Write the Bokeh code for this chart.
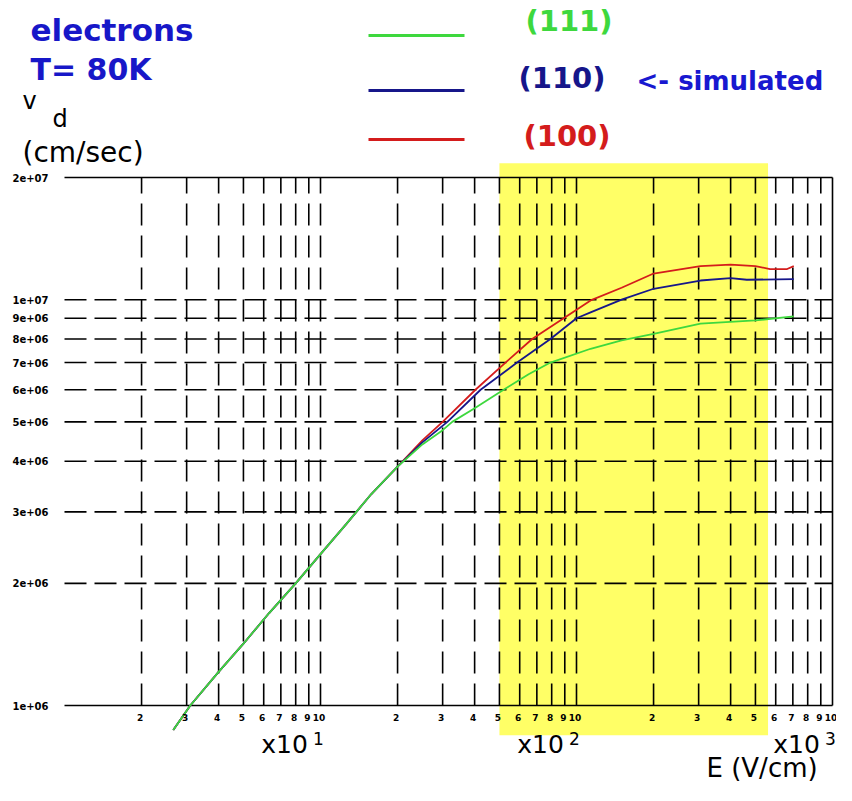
from bokeh.plotting import figure
from bokeh.models import Range1d, Label, BoxAnnotation
from bokeh.core.properties import value
from bokeh.embed import file_html
from bokeh.resources import INLINE

# ---------------- data ----------------
# E in V/cm, drift velocity in cm/sec
E_111 = [26.6, 31, 40, 50, 63, 80, 100, 126, 158, 200, 250, 300, 327, 400, 519, 650, 791, 1135, 1500, 2000, 3050, 5000, 7060]
V_111 = [8.7e5, 1.0e6, 1.21e6, 1.42e6, 1.69e6, 2.0e6, 2.36e6, 2.8e6, 3.32e6, 3.88e6, 4.4e6, 4.77e6, 5.0e6, 5.4e6, 6.0e6, 6.55e6, 7.0e6, 7.57e6, 7.94e6, 8.24e6, 8.73e6, 8.89e6, 9.1e6]

E_110 = [26.6, 31, 40, 50, 63, 80, 100, 126, 158, 200, 250, 313, 422, 586, 791, 1000, 1135, 1500, 2000, 3050, 4000, 4630, 7060]
V_110 = [8.7e5, 1.0e6, 1.21e6, 1.42e6, 1.69e6, 2.0e6, 2.36e6, 2.8e6, 3.32e6, 3.88e6, 4.45e6, 5.0e6, 6.0e6, 7.0e6, 8.0e6, 9.0e6, 9.31e6, 1.0e7, 1.064e7, 1.115e7, 1.13e7, 1.12e7, 1.124e7]

E_100 = [26.6, 31, 40, 50, 63, 80, 100, 126, 158, 200, 250, 300, 403, 528, 671, 891, 1135, 1500, 2000, 3050, 4000, 5000, 5700, 6650, 7060]
V_100 = [8.7e5, 1.0e6, 1.21e6, 1.42e6, 1.69e6, 2.0e6, 2.36e6, 2.8e6, 3.32e6, 3.88e6, 4.5e6, 5.0e6, 6.0e6, 7.0e6, 8.0e6, 9.0e6, 9.96e6, 1.07e7, 1.16e7, 1.21e7, 1.22e7, 1.21e7, 1.19e7, 1.19e7, 1.21e7]

E_MIN, E_MAX = 10, 1e4
V_MIN, V_MAX = 1e6, 2e7

GRID_E = [m * d for d in (10, 100, 1000) for m in range(2, 11)][:-1]   # 20..9000
GRID_V = [2e6, 3e6, 4e6, 5e6, 6e6, 7e6, 8e6, 9e6, 1e7]

XTICK_VALS = [m * d for d in (10, 100, 1000) for m in range(2, 11)]
XTICK_LABELS = [str(m) for d in (10, 100, 1000) for m in range(2, 11)]

YTICK_VALS = [1e6, 2e6, 3e6, 4e6, 5e6, 6e6, 7e6, 8e6, 9e6, 1e7, 2e7]
YTICK_LABELS = ["1e+06", "2e+06", "3e+06", "4e+06", "5e+06", "6e+06", "7e+06", "8e+06", "9e+06", "1e+07", "2e+07"]

DECADE_ENDS = [100, 1000, 10000]
DECADE_EXPS = ["1", "2", "3"]

HIGHLIGHT_E = (500, 5600)
HIGHLIGHT_V = (8.45e5, 2.17e7)

SERIES = [("(100)", E_100, V_100, "#d41c1c"),
          ("(110)", E_110, V_110, "#16168a"),
          ("(111)", E_111, V_111, "#3ed83e")]

# ---------------- figure ----------------
W, H = 836, 785
p = figure(width=W, height=H, x_axis_type="log", y_axis_type="log",
           x_range=Range1d(10 ** 0.75, 10 ** 4.015625),
           y_range=Range1d(10 ** 5.8029, 10 ** 7.7373),
           x_axis_location=None, y_axis_location=None,
           toolbar_location=None, output_backend="svg", min_border=0)
p.outline_line_color = None
p.grid.visible = False
p.background_fill_color = "white"
p.border_fill_color = "white"

# yellow highlight
p.add_layout(BoxAnnotation(left=HIGHLIGHT_E[0], right=HIGHLIGHT_E[1],
                           bottom=HIGHLIGHT_V[0], top=HIGHLIGHT_V[1],
                           fill_color="#ffff66", fill_alpha=1.0, line_color=None,
                           level="underlay"))

# dashed grid
p.segment(x0=GRID_E, y0=[V_MIN] * len(GRID_E), x1=GRID_E, y1=[V_MAX] * len(GRID_E),
          line_color="black", line_width=1.6, line_dash="22 10")
p.segment(x0=[E_MIN] * len(GRID_V), y0=GRID_V, x1=[E_MAX] * len(GRID_V), y1=GRID_V,
          line_color="black", line_width=1.6, line_dash="22 8")

# frame (top, bottom, right)
p.segment(x0=[E_MIN, E_MIN, E_MAX], y0=[V_MAX, V_MIN, V_MIN],
          x1=[E_MAX, E_MAX, E_MAX], y1=[V_MAX, V_MIN, V_MAX],
          line_color="black", line_width=1.6)

# curves
for name, ex, vy, col in SERIES:
    p.line(ex, vy, line_color=col, line_width=1.8)

# tick labels
p.text(x=XTICK_VALS, y=[V_MIN] * len(XTICK_VALS), text=XTICK_LABELS,
       text_font=value("DejaVu Sans"), text_font_style="bold", text_font_size="9px",
       text_align="center", text_baseline="top", x_offset=-1.5, y_offset=8, text_color="black")
p.text(x=[E_MIN] * len(YTICK_VALS), y=YTICK_VALS, text=YTICK_LABELS,
       text_font=value("DejaVu Sans"), text_font_style="bold", text_font_size="10px",
       text_align="right", text_baseline="middle", x_offset=-16, text_color="black")
p.text(x=DECADE_ENDS, y=[V_MIN] * 3, text=["x10"] * 3,
       text_font=value("DejaVu Sans"), text_font_size="25px",
       text_align="center", text_baseline="middle", x_offset=-36, y_offset=39, text_color="black")
p.text(x=DECADE_ENDS, y=[V_MIN] * 3, text=DECADE_EXPS,
       text_font=value("DejaVu Sans"), text_font_size="17px",
       text_align="center", text_baseline="middle", x_offset=-2, y_offset=33, text_color="black")


def add_label(text, left, base, size, color, style="bold"):
    # empirical correction: Bokeh places the alphabetic baseline ~0.38 em lower
    b = base - 0.38 * size
    p.add_layout(Label(x=left, y=H - b, x_units="screen", y_units="screen",
                       text=text, text_font="DejaVu Sans", text_font_size=f"{size}px",
                       text_font_style=style, text_color=color,
                       text_align="left", text_baseline="alphabetic"))


def add_line(left, right, ypage, color):
    p.add_layout(BoxAnnotation(left=left, right=right, top=H - (ypage - 1.5), bottom=H - (ypage + 1.5),
                               left_units="screen", right_units="screen",
                               top_units="screen", bottom_units="screen",
                               fill_color=color, fill_alpha=1.0, line_color=None))


add_label("electrons", 30, 41, 31, "#1717c8")
add_label("T= 80K", 30, 80, 30, "#1717c8")
add_label("v", 22, 110, 24, "black", "normal")
add_label("d", 52, 128, 24, "black", "normal")
add_label("(cm/sec)", 22, 163, 28, "black", "normal")
add_label("E (V/cm)", 706, 777, 26, "black", "normal")

add_line(368, 464, 35, "#3ed83e")
add_line(368, 464, 90, "#16168a")
add_line(368, 464, 139, "#d41c1c")
add_label("(111)", 525, 32, 29, "#3ed83e")
add_label("(110)", 518, 89, 29, "#16168a")
add_label("<- simulated", 636, 90, 26, "#1818d0")
add_label("(100)", 523, 147, 29, "#d41c1c")

open("out.html", "w").write(file_html(p, INLINE))
